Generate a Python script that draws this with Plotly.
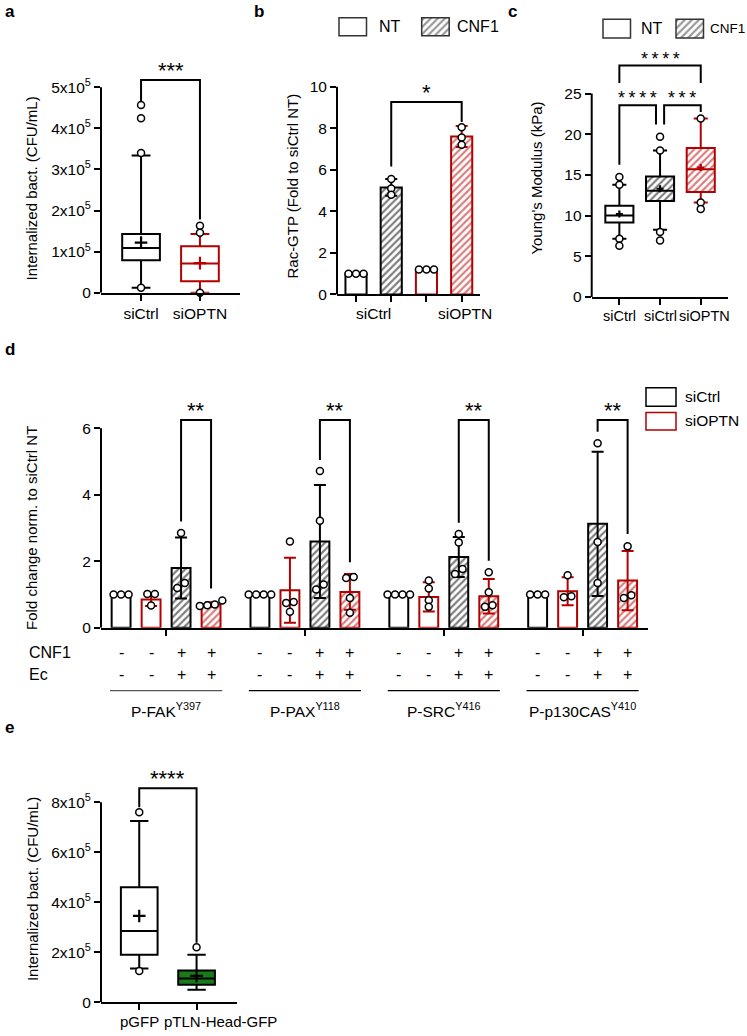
import numpy as np
import plotly.graph_objects as go

W, H = 747, 1036
FONT = "Arial, Liberation Sans, Helvetica, sans-serif"
RED = "#b30000"
GREEN = "#1a7a1a"
BLK = "#000000"
TF = 15.5  # tick font

# ---------------- DATA ----------------
# panel a : internalized bacteria (box plot)
a_cats = ["siCtrl", "siOPTN"]
a_q1 = [0.79e5, 0.28e5]
a_med = [1.09e5, 0.71e5]
a_q3 = [1.43e5, 1.13e5]
a_lo = [0.12e5, 0.0]
a_hi = [3.34e5, 1.43e5]
a_mean = [1.22e5, 0.72e5]
a_out = [[4.57e5, 4.25e5, 3.40e5, 0.12e5], [1.63e5, 1.46e5, 0.0]]
a_ticks = [0, 1e5, 2e5, 3e5, 4e5, 5e5]
a_ticktext = ["0", "1x10<sup>5</sup>", "2x10<sup>5</sup>", "3x10<sup>5</sup>", "4x10<sup>5</sup>", "5x10<sup>5</sup>"]

# panel b : Rac-GTP
b_group = ["siCtrl", "siOPTN"]
b_mean = [1.0, 5.15, 1.2, 7.6]
b_sd = [0.0, 0.4, 0.0, 0.5]
b_pts = [[1.0, 1.0, 1.0], [5.55, 5.1, 4.8], [1.2, 1.2, 1.2], [8.05, 7.55, 7.2]]
b_ticks = [0, 2, 4, 6, 8, 10]

# panel c : Young's modulus
c_cats = ["siCtrl", "siCtrl", "siOPTN"]
c_q1 = [9.15, 11.8, 12.9]
c_med = [10.0, 13.05, 15.7]
c_q3 = [11.2, 14.8, 18.3]
c_lo = [7.15, 8.25, 11.6]
c_hi = [13.8, 18.0, 21.95]
c_mean = [10.2, 13.3, 15.9]
c_out = [[14.75, 13.8, 7.15, 6.3], [19.7, 18.0, 8.0, 6.95], [21.95, 11.6, 10.8]]
c_ticks = [0, 5, 10, 15, 20, 25]

# panel d : phospho-proteins
d_groups = ["P-FAK<sup>Y397</sup>", "P-PAX<sup>Y118</sup>", "P-SRC<sup>Y416</sup>", "P-p130CAS<sup>Y410</sup>"]
d_mean = [[1.0, 0.85, 1.8, 0.7],
          [1.0, 1.13, 2.6, 1.08],
          [1.0, 0.93, 2.13, 0.95],
          [1.0, 1.1, 3.13, 1.42]]
d_sd = [[0.0, 0.19, 0.92, 0.07],
        [0.0, 0.98, 1.7, 0.54],
        [0.0, 0.44, 0.6, 0.52],
        [0.0, 0.42, 2.17, 0.89]]
d_pts = [[[1, 1, 1], [1.02, 1.02, 0.67], [2.85, 1.35, 1.2], [0.82, 0.7, 0.68, 0.66]],
         [[1, 1, 1, 1], [2.6, 0.78, 0.75, 0.48], [4.72, 3.22, 1.3, 1.15], [1.5, 1.53, 0.9, 0.45]],
         [[1, 1, 1, 1], [1.42, 1.18, 0.83, 0.63], [2.82, 2.57, 1.77, 1.62], [1.67, 1.07, 0.63, 0.68]],
         [[1, 1, 1], [1.58, 0.92, 0.95], [5.55, 2.58, 1.35], [2.45, 0.9, 0.98]]]
d_cnf1 = ["-", "-", "+", "+"]
d_ec = ["-", "-", "+", "+"]
d_ticks = [0, 2, 4, 6]

# panel e : talin head
e_cats = ["pGFP", "pTLN-Head-GFP"]
e_q1 = [1.9e5, 0.7e5]
e_med = [2.85e5, 0.95e5]
e_q3 = [4.6e5, 1.27e5]
e_lo = [1.35e5, 0.5e5]
e_hi = [7.25e5, 1.9e5]
e_mean = [3.45e5, 1.05e5]
e_out = [[7.6e5, 1.25e5], [2.2e5]]
e_ticks = [0, 2e5, 4e5, 6e5, 8e5]
e_ticktext = ["0", "2x10<sup>5</sup>", "4x10<sup>5</sup>", "6x10<sup>5</sup>", "8x10<sup>5</sup>"]

# significance brackets: (x_left, x_right, y_left_end, y_top, y_right_end, label)
a_sig = [(1, 2, 4.66e5, 5.18e5, 1.78e5, "***")]
b_sig = [(2, 4, 6.15, 9.26, 8.3, "*")]
c_sig = [(1, 3, 26.3, 28.45, 26.3, "*\u2009*\u2009*\u2009*"),
         (1, 1.9, 16.25, 23.57, 21.2, "*\u2009*\u2009*\u2009*"),
         (2.1, 3, 21.2, 23.57, 22.75, "*\u2009*\u2009*")]
d_sig_ends = [(3.2, 1.18), (5.05, 1.97), (3.16, 2.02), (5.9, 2.82)]
d_sig_top = 6.25
e_sig = [(1, 2, 7.8e5, 8.56e5, 2.38e5, "****")]

# ---------------- FIGURE ----------------
fig = go.Figure()
shapes, annos = [], []
axinfo = {}
HATCH = dict(shape="/", bgcolor="white", size=5, solidity=0.45)


def px(v):
    return v / W


def py(v):
    return 1 - v / H


def make_axes(n, xpx, xrange, ytop_px, y0_px, ppu, yticks, yticktext, xticks, xticktext=None):
    sfx = "" if n == 1 else str(n)
    ytop = (y0_px - ytop_px) / ppu
    xppu = (xpx[1] - xpx[0]) / (xrange[1] - xrange[0])
    axinfo[n] = dict(ppu=ppu, xppu=xppu)
    xax = dict(domain=[px(xpx[0]), px(xpx[1])], range=xrange, anchor="y" + sfx,
               showline=True, linewidth=2, linecolor=BLK, ticks="outside",
               ticklen=6, tickwidth=2, tickcolor=BLK, tickvals=xticks,
               showgrid=False, zeroline=False, tickangle=0,
               tickfont=dict(size=TF, color=BLK, family=FONT))
    if xticktext is None:
        xax["showticklabels"] = False
    else:
        xax["ticktext"] = xticktext
    fig.update_layout(**{
        "xaxis" + sfx: xax,
        "yaxis" + sfx: dict(domain=[py(y0_px), py(ytop_px)], range=[0, ytop], anchor="x" + sfx,
                            showline=False, ticks="outside", ticklen=6, tickwidth=2,
                            tickcolor=BLK, tickvals=yticks, ticktext=yticktext,
                            showgrid=False, zeroline=False,
                            tickfont=dict(size=TF, color=BLK, family=FONT)),
    })
    shapes.append(dict(type="line", xref="paper", yref="y" + sfx, x0=px(xpx[0]), x1=px(xpx[0]),
                       y0=0, y1=yticks[-1], line=dict(color=BLK, width=2)))
    return "x" + sfx, "y" + sfx


def xlabel(xa, ya, pos, t, size=TF, xshift=0, anchor="center"):
    annos.append(dict(x=pos, y=0, xref=xa, yref=ya, text=t, showarrow=False, yanchor="top",
                      xanchor=anchor, yshift=-9, xshift=xshift,
                      font=dict(size=size, color=BLK, family=FONT)))


def swarm(vals, center, n):
    dy = 7.5 / axinfo[n]["ppu"]
    dx = 7.5 / axinfo[n]["xppu"]
    order = np.argsort(vals)
    xs = np.zeros(len(vals))
    clusters, cur = [], [order[0]]
    for i in order[1:]:
        if abs(vals[i] - vals[cur[-1]]) < dy * 0.8:
            cur.append(i)
        else:
            clusters.append(cur)
            cur = [i]
    clusters.append(cur)
    for cl in clusters:
        k = len(cl)
        for j, i in enumerate(cl):
            xs[i] = center + (j - (k - 1) / 2) * dx
    return xs.tolist()


def points(xa, ya, xs, ys, color=BLK):
    fig.add_trace(go.Scatter(x=xs, y=ys, mode="markers", xaxis=xa, yaxis=ya, cliponaxis=False,
                             marker=dict(symbol="circle", size=7, color="white",
                                         line=dict(color=color, width=1.5)),
                             showlegend=False, hoverinfo="skip"))


def bracket(xa, ya, x1, x2, yl, yt, yr, label, size=22):
    fig.add_trace(go.Scatter(x=[x1, x1, x2, x2], y=[yl, yt, yt, yr], mode="lines",
                             xaxis=xa, yaxis=ya, line=dict(color=BLK, width=2),
                             showlegend=False, hoverinfo="skip"))
    annos.append(dict(x=(x1 + x2) / 2, y=yt, xref=xa, yref=ya, text=label, showarrow=False,
                      yanchor="bottom", yshift=-5, font=dict(size=size, color=BLK, family=FONT)))


def boxplot(xa, ya, pos, q1, med, q3, lo, hi, mean, outl, color, width, fill="white",
            hatch=None, msize=9):
    if hatch:
        fig.add_trace(go.Bar(x=[pos], y=[q3 - q1], base=[q1], width=width, xaxis=xa, yaxis=ya,
                             marker=dict(color="white", line=dict(width=0),
                                         pattern=dict(HATCH, fgcolor=hatch)),
                             showlegend=False, hoverinfo="skip"))
    fig.add_trace(go.Box(x=[pos], q1=[q1], median=[med], q3=[q3], lowerfence=[lo],
                         upperfence=[hi], width=width, whiskerwidth=0.5, boxpoints=False,
                         xaxis=xa, yaxis=ya, line=dict(color=color, width=2),
                         fillcolor=fill, showlegend=False, hoverinfo="skip"))
    fig.add_trace(go.Scatter(x=[pos], y=[mean], mode="markers", xaxis=xa, yaxis=ya,
                             cliponaxis=False,
                             marker=dict(symbol="cross-thin", size=msize,
                                         line=dict(color=color, width=2.2)),
                             showlegend=False, hoverinfo="skip"))
    points(xa, ya, [pos] * len(outl), outl)


def bar(xa, ya, pos, val, sd, color, width, hatch=False):
    m = dict(color="white", line=dict(color=color, width=2))
    if hatch:
        m["pattern"] = dict(HATCH, fgcolor=color)
    fig.add_trace(go.Bar(x=[pos], y=[val], width=width, xaxis=xa, yaxis=ya, marker=m,
                         error_y=dict(type="data", array=[sd], color=color, thickness=2,
                                      width=6, visible=sd > 0),
                         showlegend=False, hoverinfo="skip"))


def vtitle(text, xpx_, ypx_, size=15):
    annos.append(dict(x=px(xpx_), y=py(ypx_), xref="paper", yref="paper", text=text,
                      textangle=-90, showarrow=False, xanchor="center", yanchor="middle",
                      font=dict(size=size, color=BLK, family=FONT)))


def text(t, xpx_, ypx_, size=TF, anchor="left", bold=False):
    annos.append(dict(x=px(xpx_), y=py(ypx_), xref="paper", yref="paper",
                      text=("<b>%s</b>" % t) if bold else t, showarrow=False,
                      xanchor=anchor, yanchor="middle",
                      font=dict(size=size, color=BLK, family=FONT)))


# ---------- panel a ----------
xa, ya = make_axes(1, (101, 240), [0.32, 2.68], 55, 295, 41.4e-5, a_ticks, a_ticktext,
                   [1, 2], a_cats)
for i in range(2):
    col = BLK if i == 0 else RED
    boxplot(xa, ya, i + 1, a_q1[i], a_med[i], a_q3[i], a_lo[i], a_hi[i], a_mean[i], a_out[i],
            col, 0.64, fill="white")
for s in a_sig:
    bracket(xa, ya, *s)
vtitle("Internalized bact. (CFU/mL)", 32, 190)
text("a", 3, 12, 17, bold=True)

# ---------- panel b ----------
xb, yb = make_axes(2, (337, 480), [0.46, 4.52], 75, 296.7, 20.94, b_ticks, [str(t) for t in b_ticks],
                   [1, 2, 3, 4])
for i in range(4):
    col = BLK if i < 2 else RED
    bar(xb, yb, i + 1, b_mean[i], b_sd[i], col, 0.6, hatch=(i % 2 == 1))
    points(xb, yb, swarm(b_pts[i], i + 1, 2), b_pts[i])
for s in b_sig:
    bracket(xb, yb, *s)
xlabel(xb, yb, 1.5, b_group[0])
xlabel(xb, yb, 4.1, b_group[1])
vtitle("Rac-GTP (Fold to siCtrl NT)", 293, 188)
text("b", 252, 12, 17, bold=True)

# ---------- panel c ----------
xc, yc = make_axes(3, (591.7, 728), [0.32, 3.67], 40, 299.3, 8.2, c_ticks, [str(t) for t in c_ticks],
                   [1, 2, 3])
for i in range(3):
    col = BLK if i < 2 else RED
    boxplot(xc, yc, i + 1, c_q1[i], c_med[i], c_q3[i], c_lo[i], c_hi[i], c_mean[i], c_out[i],
            col, 0.69, fill="rgba(0,0,0,0)" if i > 0 else "white",
            hatch=(col if i > 0 else None), msize=5)
    xlabel(xc, yc, i + 1, c_cats[i], size=14.5, xshift=(4 if i == 2 else 0))
for s in c_sig:
    bracket(xc, yc, *s, size=18)
vtitle("Young's Modulus (kPa)", 537, 180)
text("c", 506, 12, 17, bold=True)

# ---------- panel d ----------
gc = [0, 4.63, 9.26, 13.89]
offs = [-1.5, -0.5, 0.5, 1.5]
xd, yd = make_axes(4, (101, 648.3), [-2.17, 16.08], 395, 632.7, 33.5, d_ticks,
                   [str(t) for t in d_ticks], gc)
for g in range(4):
    for k in range(4):
        pos = gc[g] + offs[k]
        col = BLK if k % 2 == 0 else RED
        bar(xd, yd, pos, d_mean[g][k], d_sd[g][k], col, 0.63, hatch=(k >= 2))
        points(xd, yd, swarm(d_pts[g][k], pos, 4), d_pts[g][k])
    yl, yr = d_sig_ends[g]
    bracket(xd, yd, gc[g] + offs[2], gc[g] + offs[3], yl, d_sig_top, yr, "**")
    for k in range(4):
        pos = gc[g] + offs[k]
        annos.append(dict(x=pos, y=py(657.5), xref=xd, yref="paper", text=d_cnf1[k],
                          showarrow=False, yanchor="middle",
                          font=dict(size=16, color=BLK, family=FONT)))
        annos.append(dict(x=pos, y=py(680), xref=xd, yref="paper", text=d_ec[k],
                          showarrow=False, yanchor="middle",
                          font=dict(size=16, color=BLK, family=FONT)))
    shapes.append(dict(type="line", xref=xd, yref="paper", x0=gc[g] - 1.87, x1=gc[g] + 1.87,
                       y0=py(696), y1=py(696),
                       line=dict(color="#555555" if g == 0 else BLK, width=1.2)))
    annos.append(dict(x=gc[g], y=py(716), xref=xd, yref="paper", text=d_groups[g],
                      showarrow=False, yanchor="middle", font=dict(size=TF, color=BLK, family=FONT)))
text("CNF1", 27, 657.5, 16)
text("Ec", 27, 680, 16)
vtitle("Fold change norm. to siCtrl NT", 32, 532)
text("d", 3, 352, 17, bold=True)
# legend d
shapes.append(dict(type="rect", xref="paper", yref="paper", x0=px(646), x1=px(676),
                   y0=py(409.3), y1=py(390.7), line=dict(color=BLK, width=1.5)))
shapes.append(dict(type="rect", xref="paper", yref="paper", x0=px(646), x1=px(676),
                   y0=py(433.3), y1=py(415.7), line=dict(color=RED, width=1.5)))
text("siCtrl", 683, 399.5, TF)
text("siOPTN", 683, 424, TF)

# ---------- panel e ----------
xe, ye = make_axes(5, (101, 236.7), [0.333, 2.70], 765, 1010, 25.2e-5, e_ticks, e_ticktext,
                   [1, 2])
for i in range(2):
    boxplot(xe, ye, i + 1, e_q1[i], e_med[i], e_q3[i], e_lo[i], e_hi[i], e_mean[i], e_out[i],
            BLK, 0.64, fill="white" if i == 0 else GREEN)
for s in e_sig:
    bracket(xe, ye, *s)
xlabel(xe, ye, 1, e_cats[0], size=15)
xlabel(xe, ye, 2, e_cats[1], size=15, anchor="left", xshift=-35)
vtitle("Internalized bact. (CFU/mL)", 32, 896)
text("e", 3, 733, 17, bold=True)

# ---------- legends of b and c (NT / CNF1) ----------
for n, (x0, lab_nt, x1, lab_cnf, fs) in zip((6, 7), ((339, 377, 421.7, 455, 16),
                                                     (603, 639, 676, 707.5, 13.5))):
    yt, yb_ = (18, 36) if n == 6 else (19.3, 38.3)
    shapes.append(dict(type="rect", xref="paper", yref="paper", x0=px(x0), x1=px(x0 + 27.5),
                       y0=py(yb_), y1=py(yt), line=dict(color="#333333", width=1.5)))
    text("NT", lab_nt, (yt + yb_) / 2, 16)
    text("CNF1", lab_cnf, (yt + yb_) / 2, fs)
    w = 27.5
    hgt = yb_ - yt
    fig.update_layout(**{
        "xaxis%d" % n: dict(domain=[px(x1 - 0.1 * w), px(x1 + 1.1 * w)], range=[-0.1, 1.1],
                            visible=False, anchor="y%d" % n),
        "yaxis%d" % n: dict(domain=[py(yb_ + 0.1 * hgt), py(yt - 0.1 * hgt)], range=[-0.1, 1.1],
                            visible=False, anchor="x%d" % n),
    })
    fig.add_trace(go.Bar(x=[0.5], y=[1], width=1, xaxis="x%d" % n, yaxis="y%d" % n,
                         marker=dict(color="white", line=dict(color="#333333", width=1.5),
                                     pattern=dict(HATCH, fgcolor="#333333")),
                         showlegend=False, hoverinfo="skip"))

fig.update_layout(width=W, height=H, margin=dict(l=0, r=0, t=0, b=0),
                  paper_bgcolor="white", plot_bgcolor="white", barmode="overlay",
                  boxmode="overlay", showlegend=False, shapes=shapes, annotations=annos,
                  font=dict(family=FONT, color=BLK))
fig.write_html("out.html", config={"displayModeBar": False},
               post_script="document.documentElement.style.margin='0';"
                           "document.body.style.margin='0';"
                           "document.documentElement.style.overflow='hidden';"
                           "document.body.style.overflow='hidden';")
